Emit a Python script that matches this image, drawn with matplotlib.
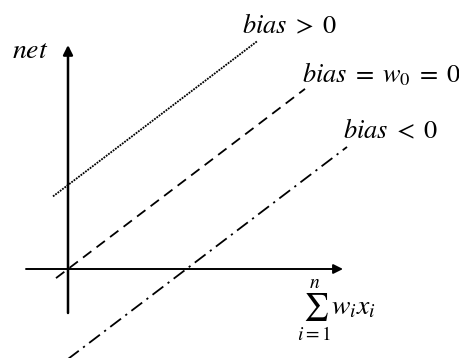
import matplotlib.pyplot as plt

plt.rcParams['mathtext.fontset'] = 'stix'
plt.rcParams['font.family'] = ['Liberation Serif', 'DejaVu Serif']

# slope shared by the three net lines, and the bias of each
slope = 0.76
biases = [84, 0, -90]
x_starts = [-15, -12, 0]
x_ends = [189, 237, 279]
line_styles = [(0, (1.0, 0.6)), (0, (5.8, 3.6)), (0, (7.5, 3.0, 1.2, 3.0))]
labels = [r'$bias\;>\;0$', r'$bias\;=\;w_0\;=\;0$', r'$bias\;<\;0$']
label_pos = [(174, 236), (234, 187), (275, 131)]

fig = plt.figure(figsize=(4.6, 3.58), dpi=100)
ax = fig.add_axes([0, 0, 1, 1])
ax.set_xlim(-68, 392)
ax.set_ylim(-89, 269)
ax.axis('off')

# axes with arrow heads
ax.annotate('', xy=(275, 0), xytext=(-42, 0),
            arrowprops=dict(arrowstyle='-|>', color='black', lw=1.4,
                            mutation_scale=14, shrinkA=0, shrinkB=0))
ax.annotate('', xy=(0, 224), xytext=(0, -44),
            arrowprops=dict(arrowstyle='-|>', color='black', lw=1.8,
                            mutation_scale=14, shrinkA=0, shrinkB=0))

for b, x0, x1, ls in zip(biases, x_starts, x_ends, line_styles):
    xs = [x0, x1]
    ys = [slope * x + b for x in xs]
    ax.plot(xs, ys, color='black', lw=1.3, linestyle=ls)

for txt, (tx, ty) in zip(labels, label_pos):
    ax.text(tx, ty, txt, fontsize=19, ha='left', va='baseline')

ax.text(-56, 211, r'$net$', fontsize=20, ha='left', va='baseline')
ax.text(229, -42, r'$\sum_{i=1}^{n} w_i x_i$', fontsize=20, ha='left', va='center')

fig.savefig('out.png', dpi=100)
